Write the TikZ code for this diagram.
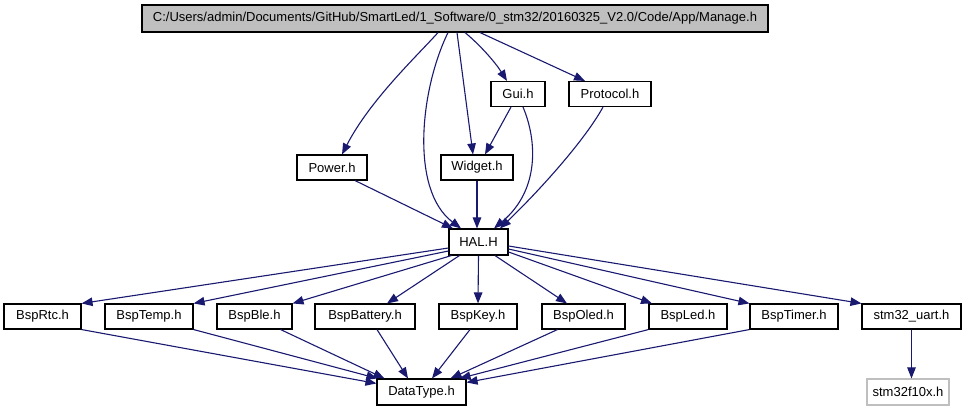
\documentclass[tikz,border=0pt]{standalone}
\usepackage{fontspec}
\setmainfont{Liberation Sans}
\usetikzlibrary{arrows.meta}
\definecolor{edgeblue}{HTML}{191970}
\definecolor{boxgrey}{HTML}{BFBFBF}
\begin{document}
\begin{tikzpicture}[x=1pt,y=-1pt,
  box/.style={draw=black,line width=1.1pt,fill=white,inner sep=0pt,minimum height=25pt,font=\fontsize{13}{15}\selectfont},
  rootbox/.style={box,fill=boxgrey,minimum height=27pt},
  extbox/.style={box,draw=boxgrey},
  dep/.style={draw=edgeblue,line width=1.1pt,-{Triangle[length=11pt,width=8.5pt]}}
]
\useasboundingbox (0,0) rectangle (967,411);
% nodes
\node[rootbox,minimum width=626pt] (manage) at (455,18.5) {C:/Users/admin/Documents/GitHub/SmartLed/1\_Software/0\_stm32/20160325\_V2.0/Code/App/Manage.h};
\node[box,minimum width=54pt] (gui) at (518,94) {Gui.h};
\node[box,minimum width=82pt] (protocol) at (610,94) {Protocol.h};
\node[box,minimum width=70pt] (power) at (332,167.5) {Power.h};
\node[box,minimum width=72pt] (widget) at (477,167.5) {Widget.h};
\node[box,minimum width=59pt,minimum height=26pt] (hal) at (478.5,242) {HAL.H};
\node[box,minimum width=77pt] (rtc) at (42.5,316.5) {BspRtc.h};
\node[box,minimum width=88pt] (temp) at (149,316.5) {BspTemp.h};
\node[box,minimum width=75pt] (ble) at (254.5,316.5) {BspBle.h};
\node[box,minimum width=100pt] (battery) at (365,316.5) {BspBattery.h};
\node[box,minimum width=78pt] (key) at (478,316.5) {BspKey.h};
\node[box,minimum width=83pt] (oled) at (583.5,316.5) {BspOled.h};
\node[box,minimum width=78pt] (led) at (688,316.5) {BspLed.h};
\node[box,minimum width=88pt] (timer) at (794,316.5) {BspTimer.h};
\node[box,minimum width=99pt] (uart) at (911.5,316.5) {stm32\_uart.h};
\node[box,minimum width=89pt,minimum height=26pt] (datatype) at (421.5,392) {DataType.h};
\node[extbox,minimum width=82pt,minimum height=26pt] (f10x) at (908,392) {stm32f10x.h};
% Manage.h edges
\draw[dep] ([xshift=-17pt]manage.south) .. controls (418,55) and (370,100) .. ([xshift=10pt]power.north);
\draw[dep] ([xshift=-7pt]manage.south) .. controls (420,90) and (410,190) .. ([xshift=-17.5pt]hal.north);
\draw[dep] ([xshift=2pt]manage.south) -- ([xshift=-4pt]widget.north);
\draw[dep] ([xshift=10pt]manage.south) .. controls (480,45) and (495,62) .. ([xshift=-11pt]gui.north);
\draw[dep] ([xshift=25pt]manage.south) -- ([xshift=-25pt]protocol.north);
% middle edges
\draw[dep] ([xshift=-7pt]gui.south) -- ([xshift=8pt]widget.north);
\draw[dep] ([xshift=5pt]gui.south) .. controls (537,140) and (540,190) .. ([xshift=15.5pt]hal.north);
\draw[dep] ([xshift=-7pt]protocol.south) .. controls (585,140) and (540,190) .. ([xshift=21.5pt]hal.north);
\draw[dep] ([xshift=23pt]power.south) -- ([xshift=-25.5pt]hal.north);
\draw[dep] (widget.south) -- (widget.south |- hal.north);
% HAL edges
\draw[dep] ([yshift=-6pt]hal.west) -- (rtc.north east);
\draw[dep] ([yshift=-9pt]hal.west) -- (temp.north east);
\draw[dep] ([xshift=3pt]hal.south west) -- (ble.north east);
\draw[dep] ([xshift=11pt]hal.south west) -- ([xshift=22pt]battery.north);
\draw[dep] (hal.south) -- (key.north);
\draw[dep] ([xshift=16.5pt]hal.south) -- ([xshift=-16.5pt]oled.north);
\draw[dep] ([yshift=-10pt]hal.east) -- ([xshift=-36pt]led.north);
\draw[dep] ([yshift=-7pt]hal.east) -- (timer.north west);
\draw[dep] ([yshift=-4pt]hal.east) -- (uart.north west);
% DataType edges
\draw[dep] (rtc.south east) -- ([yshift=-5pt]datatype.north west);
\draw[dep] (temp.south east) -- ([xshift=1pt]datatype.north west);
\draw[dep] ([xshift=-12pt]ble.south east) -- ([xshift=8pt]datatype.north west);
\draw[dep] ([xshift=12pt]battery.south) -- ([xshift=-13.5pt]datatype.north);
\draw[dep] ([xshift=-8pt]key.south) -- ([xshift=10.5pt]datatype.north);
\draw[dep] ([xshift=-26pt]oled.south) -- ([xshift=-16pt]datatype.north east);
\draw[dep] (led.south west) -- ([xshift=-7pt]datatype.north east);
\draw[dep] (timer.south west) -- ([yshift=-4pt]datatype.north east);
% stm32 edge
\draw[dep] (uart.south) -- (uart.south |- f10x.north);
\end{tikzpicture}
\end{document}
